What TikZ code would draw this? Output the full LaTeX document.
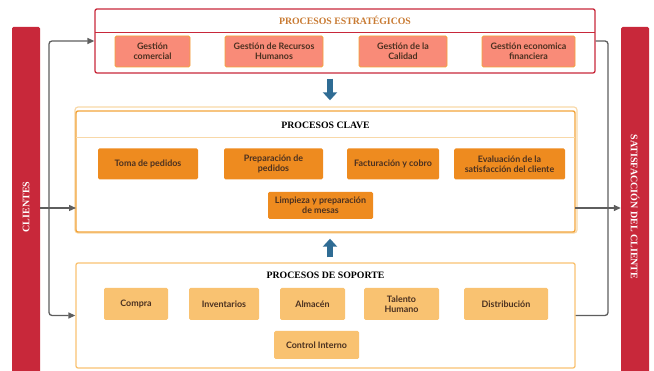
\documentclass[tikz,border=0pt]{standalone}
\usepackage{fontspec}
\setmainfont{Liberation Serif}
\setsansfont{Lato}
\usetikzlibrary{arrows.meta, calc, positioning}
\definecolor{rojo}{HTML}{C8283A}
\definecolor{salmon}{HTML}{F98B78}
\definecolor{naranja}{HTML}{EE8B1F}
\definecolor{crema}{HTML}{F9C271}
\definecolor{borde}{HTML}{F2A43A}
\definecolor{palido}{HTML}{F8D8A8}
\definecolor{gris}{HTML}{5E5E5E}
\definecolor{azul}{HTML}{2F6C94}
\definecolor{ocre}{HTML}{C87A32}
\definecolor{tinta}{HTML}{4A3020}

\begin{document}
\begin{tikzpicture}[
        x=1pt, y=-1pt,
        every node/.style={font=\sffamily\bfseries\fontsize{8.9}{9.6}\selectfont, text=tinta, align=center},
        caja/.style={rounded corners=1.5pt, inner sep=0pt},
        estr/.style={caja, fill=salmon, draw=borde, line width=0.9pt},
        clav/.style={caja, fill=naranja},
        sop/.style={caja, fill=crema},
        titulo/.style={font=\rmfamily\bfseries\fontsize{9.8}{11}\selectfont, text=black},
        barra/.style={fill=rojo, rounded corners=1.5pt, minimum width=28pt,
                      minimum height=360pt, inner sep=0pt,
                      font=\rmfamily\bfseries\fontsize{10}{11}\selectfont, text=white},
        linea/.style={draw=gris, line width=1.3pt, rounded corners=3pt},
        flecha/.style={linea, -{Triangle[length=7pt, width=6pt]}},
        bloque/.style={draw=azul, line width=5.5pt, -{Triangle[length=8pt, width=14pt]}},
      ]
      \useasboundingbox (0,0) rectangle (654,371);

      % Barras laterales
      \node[barra] (clientes) at (26,207) {\rotatebox{90}{CLIENTES}};
      \node[barra] (satisfaccion) at (635,207) {\rotatebox{-90}{SATISFACCIÓN DEL CLIENTE}};

      % Procesos estrategicos
      \node[draw=rojo, line width=1.3pt, rounded corners=2pt, minimum width=500pt,
            minimum height=64pt] (estrategicos) at (345,41) {};
      \draw[rojo, line width=0.8pt] (95,32) -- (595,32);
      \node[titulo, text=ocre] (tituloE) at (345,20.5) {PROCESOS ESTRATÉGICOS};
      \node[estr, minimum width=75pt, minimum height=31pt] (comercial) at (152.5,51.5) {Gestión\\comercial};
      \node[estr, minimum width=98pt, minimum height=31pt] (recursos) at (274,51.5) {Gestión de Recursos\\Humanos};
      \node[estr, minimum width=88pt, minimum height=31pt] (calidad) at (403,51.5) {Gestión de la\\Calidad};
      \node[estr, minimum width=93pt, minimum height=31pt] (economica) at (528.5,51.5) {Gestión economica\\financiera};

      % Procesos clave
      \draw[palido, line width=1.2pt, rounded corners=3pt] (75,107) rectangle (577,233);
      \node[draw=borde, line width=1.4pt, rounded corners=2pt, minimum width=499pt,
            minimum height=121pt] (clave) at (325.5,171.5) {};
      \draw[palido, line width=1pt] (76,138) -- (575,138);
      \node[titulo] (tituloC) at (325.5,125) {PROCESOS CLAVE};
      \node[clav, minimum width=100pt, minimum height=31pt] (toma) at (148,164) {Toma de pedidos};
      \node[clav, minimum width=99pt, minimum height=31pt] (preparacion) at (273.5,164) {Preparación de\\pedidos};
      \node[clav, minimum width=92pt, minimum height=31pt] (facturacion) at (393,164) {Facturación y cobro};
      \node[clav, minimum width=111pt, minimum height=31pt] (evaluacion) at (509.5,164) {Evaluación de la\\satisfacción del cliente};
      \node[clav, minimum width=105pt, minimum height=27pt] (limpieza) at (320.5,205.5) {Limpieza y preparación\\de mesas};

      % Procesos de soporte
      \node[draw=crema, line width=1.3pt, rounded corners=2pt, minimum width=499pt,
            minimum height=105pt] (soporte) at (325.5,315.5) {};
      \node[titulo] (tituloS) at (325.5,275) {PROCESOS DE SOPORTE};
      \node[sop, minimum width=64pt, minimum height=32pt] (compra) at (136,304) {Compra};
      \node[sop, minimum width=70pt, minimum height=32pt] (inventarios) at (224,304) {Inventarios};
      \node[sop, minimum width=65pt, minimum height=32pt] (almacen) at (312.5,304) {Almacén};
      \node[sop, minimum width=75pt, minimum height=32pt] (talento) at (401.5,304) {Talento\\Humano};
      \node[sop, minimum width=84pt, minimum height=32pt] (distribucion) at (506,304) {Distribución};
      \node[sop, minimum width=85pt, minimum height=28pt] (control) at (316.5,345) {Control Interno};

      % Conexiones
      \coordinate (busI) at (49,208);
      \coordinate (busD) at (608,208);
      \coordinate (entrada) at (76,208);
      \coordinate (salida) at (575,208);
      \coordinate (eje) at (330,0);
      \draw[flecha] (busI) |- (estrategicos.west);
      \draw[flecha] (busI) |- (soporte.west);
      \draw[flecha] (clientes.east |- entrada) -- (entrada);
      \draw[linea] (estrategicos.east) -| (busD) |- (soporte.east);
      \draw[flecha] (salida) -- (satisfaccion.west |- salida);

      \draw[bloque] ([yshift=-5pt]estrategicos.south -| eje) -- ([yshift=10pt]clave.north -| eje);
      \draw[bloque] ([yshift=5pt]soporte.north -| eje) -- ([yshift=-6pt]clave.south -| eje);
    \end{tikzpicture}
\end{document}
